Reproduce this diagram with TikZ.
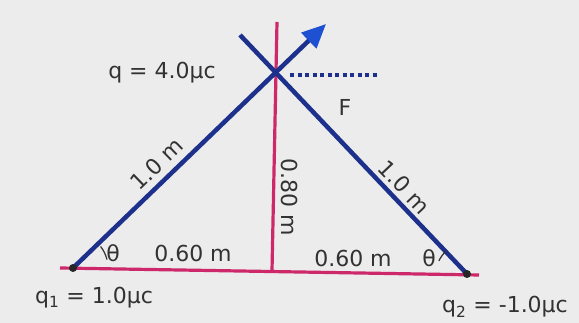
\documentclass[tikz,border=0pt]{standalone}
\usepackage{fontspec}
\setmainfont{DejaVu Sans}
\usepackage{tikz}
\usetikzlibrary{arrows.meta,positioning,calc}
\definecolor{lineblue}{RGB}{28,48,140}
\definecolor{tipblue}{RGB}{30,80,210}
\definecolor{linepink}{RGB}{205,40,105}
\definecolor{paper}{RGB}{236,236,236}
\definecolor{ink}{RGB}{50,50,50}

\begin{document}
\begin{tikzpicture}[
    x=1pt, y=1pt,
    blueline/.style={lineblue, line width=4.5pt},
    pinkline/.style={linepink, line width=3.2pt},
    lbl/.style={font=\fontsize{22}{25}\selectfont, text=ink, inner sep=1pt},
    anglearc/.style={ink, line width=1.2pt}
]

% Background
\fill[paper] (0,0) rectangle (579,323);
\useasboundingbox (0,0) rectangle (579,323);

% Points
\coordinate (q1) at (73,55);
\coordinate (q2) at (467,49);
\coordinate (apex) at (275,251);
\coordinate (top) at (277,301);
\coordinate (foot) at (272,52);
\coordinate (tip) at (326,299);
\coordinate (start) at (240,288);
\coordinate (dotstart) at (290,248);
\coordinate (dotend) at (377,248);

% Base and height
\draw[pinkline] (60,55) coordinate (base1) -- (479,48) coordinate (base2);
\draw[pinkline] (top) -- (foot);

% Sides
\draw[blueline] (start) -- (q2);
\draw[blueline, -{Triangle[length=24pt, width=21pt, color=tipblue]}] (q1) -- (tip);
\draw[blueline, line width=3.5pt, dash pattern=on 4pt off 3.5pt] (dotstart) -- (dotend);

% Charges
\fill[black!85] (q1) circle (4pt);
\fill[black!85] (q2) circle (4pt);

% Angles
\draw[anglearc] ($(q1)+(14:35)$) arc (14:38:35);
\draw[anglearc] ($(q2)+(133:31)$) arc (133:155:31);
\node[lbl] (thetaL) at (113,70) {θ};
\node[lbl] (thetaR) at (429,65) {θ};

% Side lengths
\path (q1) -- (apex) node[lbl, pos=0.47, sloped, above=7pt] (sideL) {1.0 m};
\path (apex) -- (q2) node[lbl, pos=0.62, sloped, above=5pt] (sideR) {1.0 m};
\node[lbl, rotate=-90] (height) at (290,126) {0.80 m};
\node[lbl] (halfL) at (193,70) {0.60 m};
\node[lbl] (halfR) at (353,65) {0.60 m};

% Charges and force
\node[lbl] (qtop) at (162,250) {q = 4.0μc};
\node[lbl] (force) at (345,216) {F};
\node[lbl] (charge1) at (94,25) {q\textsubscript{1} = 1.0μc};
\node[lbl] (charge2) at (505,16) {q\textsubscript{2} = -1.0μc};

\end{tikzpicture}
\end{document}
